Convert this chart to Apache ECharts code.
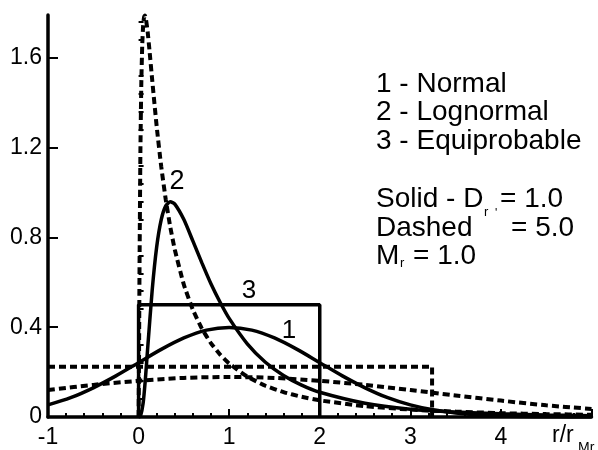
<!DOCTYPE html>
<html>
<head>
<meta charset="utf-8">
<script src="https://cdn.jsdelivr.net/npm/echarts@6/dist/echarts.min.js"></script>
<style>
html,body{margin:0;padding:0;background:#fff;}
#chart{width:598px;height:450px;}
</style>
</head>
<body>
<div id="chart"></div>
<script>
// ---- data ----
const xTickLabels = [-1, 0, 1, 2, 3, 4];
const yTickLabels = [0, 0.4, 0.8, 1.2, 1.6];
const yMinorTicks = [0.08, 0.16, 0.24, 0.32, 0.48, 0.56, 0.64, 0.72, 0.88, 0.96, 1.04, 1.12, 1.28, 1.36, 1.44, 1.52, 1.68, 1.76];

// 1 - Normal, solid (D = 1)
const normalSolidX = [-1, -0.75, -0.5, -0.25, 0, 0.25, 0.5, 0.75, 1, 1.25, 1.5, 1.75, 2, 2.25, 2.5, 2.75, 3, 3.25, 3.5, 3.75, 4, 4.25, 4.5, 4.75, 5];
const normalSolidY = [0.054, 0.086, 0.130, 0.183, 0.242, 0.301, 0.352, 0.387, 0.399, 0.387, 0.352, 0.301, 0.242, 0.183, 0.130, 0.086, 0.054, 0.032, 0.018, 0.009, 0.004, 0.002, 0.001, 0.0004, 0.0001];

// 1 - Normal, dashed (D = 5)
const normalDashedX = [-1, -0.5, 0, 0.5, 1, 1.5, 2, 2.5, 3, 3.5, 4, 4.5, 5];
const normalDashedY = [0.120, 0.143, 0.161, 0.174, 0.178, 0.174, 0.161, 0.143, 0.120, 0.096, 0.073, 0.052, 0.036];

// 2 - Lognormal, solid
const lognSolidX = [0, 0.02, 0.05, 0.075, 0.1, 0.15, 0.2, 0.25, 0.3, 0.35, 0.4, 0.5, 0.6, 0.7, 0.8, 0.9, 1.0, 1.2, 1.4, 1.6, 1.8, 2.0, 2.5, 3.0, 3.5, 4.0, 4.5, 5.0];
const lognSolidY = [0, 0.003, 0.061, 0.169, 0.304, 0.564, 0.758, 0.879, 0.940, 0.958, 0.948, 0.879, 0.783, 0.685, 0.592, 0.511, 0.439, 0.326, 0.244, 0.185, 0.142, 0.110, 0.061, 0.035, 0.022, 0.014, 0.009, 0.006];

// 2 - Lognormal, dashed
const lognDashedX = [0, 0.005, 0.01, 0.02, 0.03, 0.04, 0.05, 0.06, 0.07, 0.08, 0.1, 0.12, 0.15, 0.2, 0.25, 0.3, 0.35, 0.4, 0.5, 0.6, 0.7, 0.8, 0.9, 1.0, 1.2, 1.4, 1.6, 1.8, 2.0, 2.5, 3.0, 3.5, 4.0, 4.5, 5.0];
const lognDashedY = [0, 0.267, 0.641, 1.177, 1.483, 1.653, 1.742, 1.780, 1.788, 1.775, 1.716, 1.634, 1.502, 1.293, 1.115, 0.968, 0.846, 0.745, 0.589, 0.477, 0.393, 0.328, 0.278, 0.238, 0.180, 0.139, 0.111, 0.090, 0.074, 0.048, 0.033, 0.024, 0.017, 0.013, 0.010];

// 3 - Equiprobable
const uniSolidX = [0, 0, 2, 2];
const uniSolidY = [0, 0.5, 0.5, 0];
const uniDashedX = [-1, 3.24, 3.24];
const uniDashedY = [0.224, 0.224, 0];

// ---- chart ----
const FONT = "'Liberation Sans', Arial, Helvetica, sans-serif";
const zip = (xs, ys) => xs.map((x, i) => [x, ys[i]]);
const solid = { color: '#000', width: 3.5, type: 'solid' };
const dashed = { color: '#000', width: 4, type: [7, 4] };

function line(name, xs, ys, style, smooth) {
  return {
    name, type: 'line', data: zip(xs, ys), showSymbol: false, symbol: 'none',
    smooth: smooth || false, lineStyle: style, animation: false, clip: true, z: 3
  };
}

function txt(text, x, y, size, align) {
  return {
    type: 'text', x: x, y: y, silent: true, z: 10,
    style: {
      text: text, fontSize: size, fontFamily: FONT, fill: '#000',
      align: align || 'left', verticalAlign: 'middle',
      textAlign: align || 'left', textVerticalAlign: 'middle'
    }
  };
}

const chart = echarts.init(document.getElementById('chart'), null, { renderer: 'canvas' });
chart.setOption({
  animation: false,
  backgroundColor: '#fff',
  grid: { left: 48, right: 6.5, top: 15, bottom: 33 },
  xAxis: {
    type: 'value', min: -1, max: 5, interval: 1,
    axisLine: { show: true, onZero: false, lineStyle: { color: '#000', width: 3.5 } },
    axisTick: { show: true, inside: true, length: 8, lineStyle: { color: '#000', width: 2 } },
    minorTick: { show: true, splitNumber: 5, length: 4, lineStyle: { color: '#000', width: 2 } },
    splitLine: { show: false },
    axisLabel: { customValues: xTickLabels, fontSize: 23, fontFamily: FONT, color: '#000', margin: 9 }
  },
  yAxis: [{
    type: 'value', min: 0, max: 1.79,
    axisLine: { show: true, onZero: false, lineStyle: { color: '#000', width: 3.5 } },
    axisTick: { show: true, inside: true, length: 10, customValues: yTickLabels, lineStyle: { color: '#000', width: 2 } },
    splitLine: { show: false },
    axisLabel: { customValues: yTickLabels, fontSize: 23, fontFamily: FONT, color: '#000', margin: 6 }
  }, {
    type: 'value', min: 0, max: 1.79, position: 'left',
    axisLine: { show: false },
    axisTick: { show: true, inside: true, length: 5, customValues: yMinorTicks, lineStyle: { color: '#000', width: 2 } },
    splitLine: { show: false },
    axisLabel: { show: false }
  }],
  series: [
    line('Normal D=1', normalSolidX, normalSolidY, solid, 0.3),
    line('Normal D=5', normalDashedX, normalDashedY, dashed, 0.3),
    line('Lognormal D=1', lognSolidX, lognSolidY, solid, 0.2),
    line('Lognormal D=5', lognDashedX, lognDashedY, dashed, 0.15),
    line('Equiprobable D=1', uniSolidX, uniSolidY, solid),
    line('Equiprobable D=5', uniDashedX, uniDashedY, dashed)
  ],
  graphic: [
    txt('1 - Normal', 376, 84, 28),
    txt('2 - Lognormal', 376, 112.5, 28),
    txt('3 - Equiprobable', 376, 141, 28),
    txt('Solid - D', 376, 199.5, 28),
    txt('r', 484, 212, 13),
    txt('= 1.0', 500, 199.5, 28),
    txt('Dashed', 376, 228, 28),
    txt("'", 495, 214, 12),
    txt('= 5.0', 511, 228, 28),
    txt('M', 376, 256, 28),
    txt('r', 400, 263, 13),
    txt('= 1.0', 413, 256, 28),
    txt('1', 289, 331, 26, 'center'),
    txt('2', 177, 182, 27, 'center'),
    txt('3', 249, 291, 26, 'center'),
    txt('r/r', 552, 436, 23),
    txt('Mr', 578, 448, 14)
  ]
});
</script>
</body>
</html>
